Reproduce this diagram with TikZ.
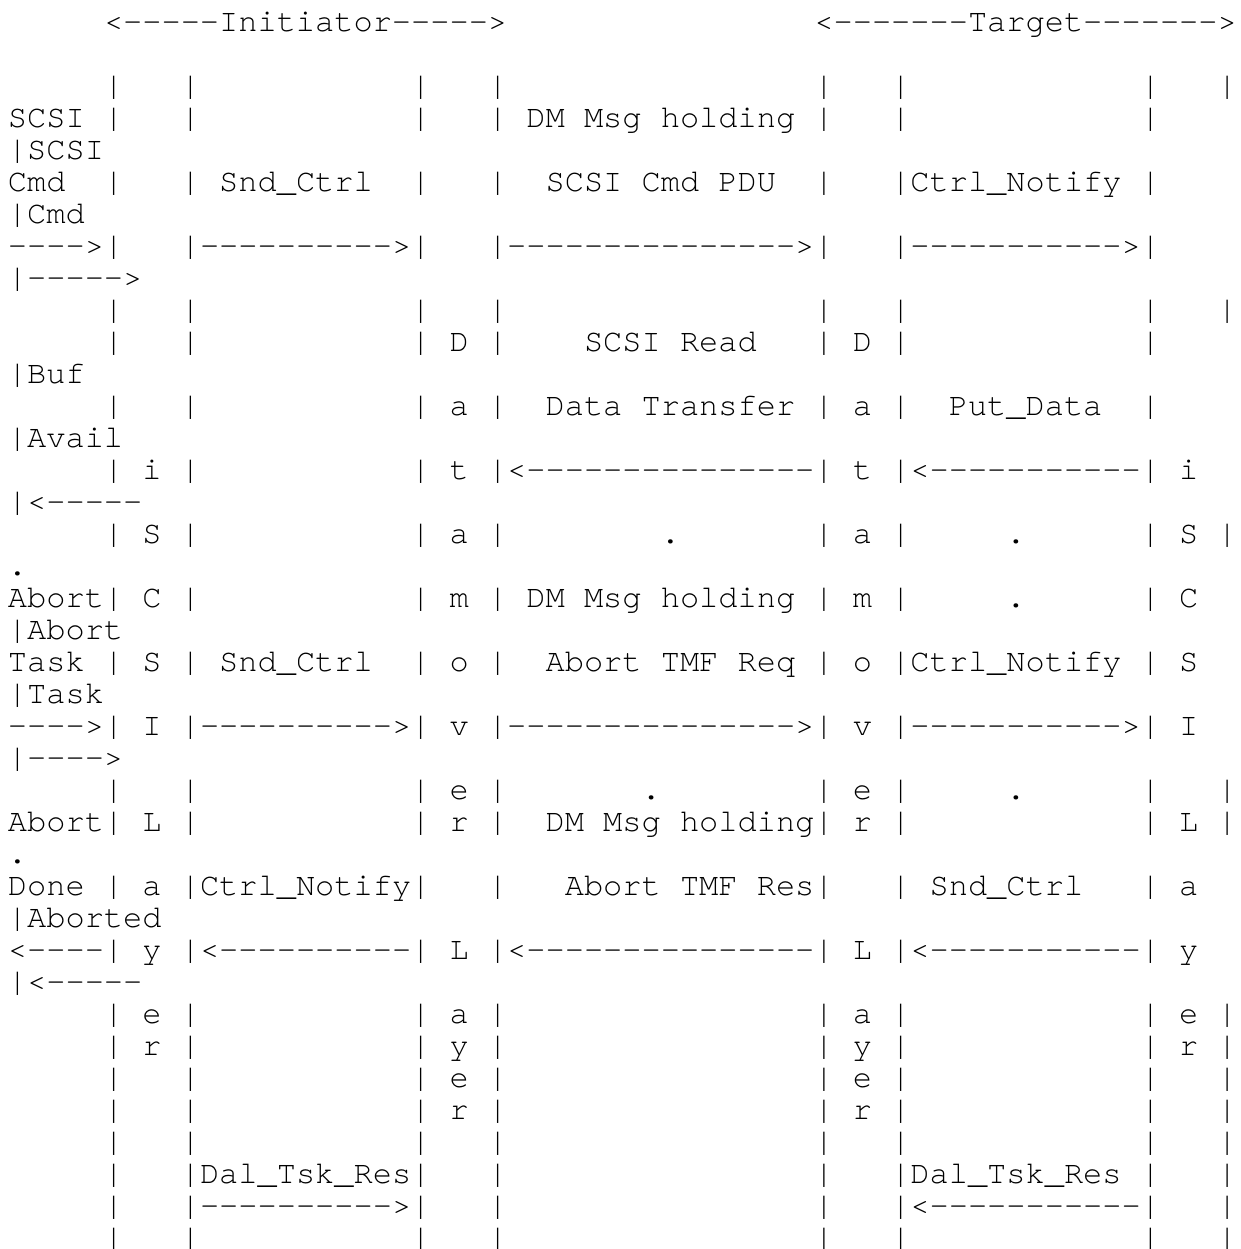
\documentclass[tikz,border=0pt]{standalone}
\usepackage{fontspec}
\setmonofont{TeX Gyre Cursor}
\begin{document}
\begin{tikzpicture}[x=0.5pt,y=-0.5pt,
  txt/.style={anchor=base west, inner sep=0pt, outer sep=0pt, font=\ttfamily\fontsize{16}{16}\selectfont}]
\fill[white] (0,0) rectangle (1241,1249);
\useasboundingbox (0,0) rectangle (1241,1249);
\newcommand\tx[3]{\node[txt] (t-#1-#2) at ({8+19.2*#1},{31+32*#2}) {#3};}
\newcommand\pp[2]{\foreach \pc in #2 {\node[txt] (p-\pc-#1) at ({8+19.2*\pc},{31+32*#1}) {|};}}
\def\allp{5,9,21,25,42,46,59,63}
\def\sevp{5,9,21,25,42,46,59}
% row 0
\tx{5}{0}{<-----Initiator----->}
\tx{42}{0}{<-------Target------->}
% row 2
\pp{2}{\allp}
% row 3
\tx{0}{3}{SCSI}\pp{3}{\sevp}\tx{27}{3}{DM Msg holding}
\tx{0}{4}{|SCSI}
% row 5
\tx{0}{5}{Cmd}\pp{5}{\sevp}\tx{11}{5}{Snd\_Ctrl}\tx{28}{5}{SCSI Cmd PDU}\tx{47}{5}{Ctrl\_Notify}
\tx{0}{6}{|Cmd}
% row 7
\tx{0}{7}{---->}\pp{7}{\sevp}\tx{10}{7}{---------->}\tx{26}{7}{--------------->}\tx{47}{7}{----------->}
\tx{0}{8}{|----->}
% row 9
\pp{9}{\allp}
% row 10
\pp{10}{\sevp}\tx{23}{10}{D}\tx{30}{10}{SCSI Read}\tx{44}{10}{D}
\tx{0}{11}{|Buf}
% row 12
\pp{12}{\sevp}\tx{23}{12}{a}\tx{28}{12}{Data Transfer}\tx{44}{12}{a}\tx{49}{12}{Put\_Data}
\tx{0}{13}{|Avail}
% row 14
\pp{14}{\sevp}\tx{7}{14}{i}\tx{23}{14}{t}\tx{26}{14}{<---------------}\tx{44}{14}{t}\tx{47}{14}{<-----------}\tx{61}{14}{i}
\tx{0}{15}{|<-----}
% row 16
\pp{16}{\allp}\tx{7}{16}{S}\tx{23}{16}{a}\tx{34}{16}{.}\tx{44}{16}{a}\tx{52}{16}{.}\tx{61}{16}{S}
\tx{0}{17}{.}
% row 18
\tx{0}{18}{Abort}\pp{18}{\sevp}\tx{7}{18}{C}\tx{23}{18}{m}\tx{27}{18}{DM Msg holding}\tx{44}{18}{m}\tx{52}{18}{.}\tx{61}{18}{C}
\tx{0}{19}{|Abort}
% row 20
\tx{0}{20}{Task}\pp{20}{\sevp}\tx{7}{20}{S}\tx{11}{20}{Snd\_Ctrl}\tx{23}{20}{o}\tx{28}{20}{Abort TMF Req}\tx{44}{20}{o}\tx{47}{20}{Ctrl\_Notify}\tx{61}{20}{S}
\tx{0}{21}{|Task}
% row 22
\tx{0}{22}{---->}\pp{22}{\sevp}\tx{7}{22}{I}\tx{10}{22}{---------->}\tx{23}{22}{v}\tx{26}{22}{--------------->}\tx{44}{22}{v}\tx{47}{22}{----------->}\tx{61}{22}{I}
\tx{0}{23}{|---->}
% row 24
\pp{24}{\allp}\tx{23}{24}{e}\tx{33}{24}{.}\tx{44}{24}{e}\tx{52}{24}{.}
% row 25
\tx{0}{25}{Abort}\pp{25}{\allp}\tx{7}{25}{L}\tx{23}{25}{r}\tx{28}{25}{DM Msg holding}\tx{44}{25}{r}\tx{61}{25}{L}
\tx{0}{26}{.}
% row 27
\tx{0}{27}{Done}\pp{27}{\sevp}\tx{7}{27}{a}\tx{10}{27}{Ctrl\_Notify}\tx{29}{27}{Abort TMF Res}\tx{48}{27}{Snd\_Ctrl}\tx{61}{27}{a}
\tx{0}{28}{|Aborted}
% row 29
\tx{0}{29}{<----}\pp{29}{\sevp}\tx{7}{29}{y}\tx{10}{29}{<----------}\tx{23}{29}{L}\tx{26}{29}{<---------------}\tx{44}{29}{L}\tx{47}{29}{<-----------}\tx{61}{29}{y}
\tx{0}{30}{|<-----}
% rows 31-38
\pp{31}{\allp}\tx{7}{31}{e}\tx{23}{31}{a}\tx{44}{31}{a}\tx{61}{31}{e}
\pp{32}{\allp}\tx{7}{32}{r}\tx{23}{32}{y}\tx{44}{32}{y}\tx{61}{32}{r}
\pp{33}{\allp}\tx{23}{33}{e}\tx{44}{33}{e}
\pp{34}{\allp}\tx{23}{34}{r}\tx{44}{34}{r}
\pp{35}{\allp}
\pp{36}{\allp}\tx{10}{36}{Dal\_Tsk\_Res}\tx{47}{36}{Dal\_Tsk\_Res}
\pp{37}{\allp}\tx{10}{37}{---------->}\tx{47}{37}{<-----------}
\pp{38}{\allp}
\end{tikzpicture}
\end{document}
